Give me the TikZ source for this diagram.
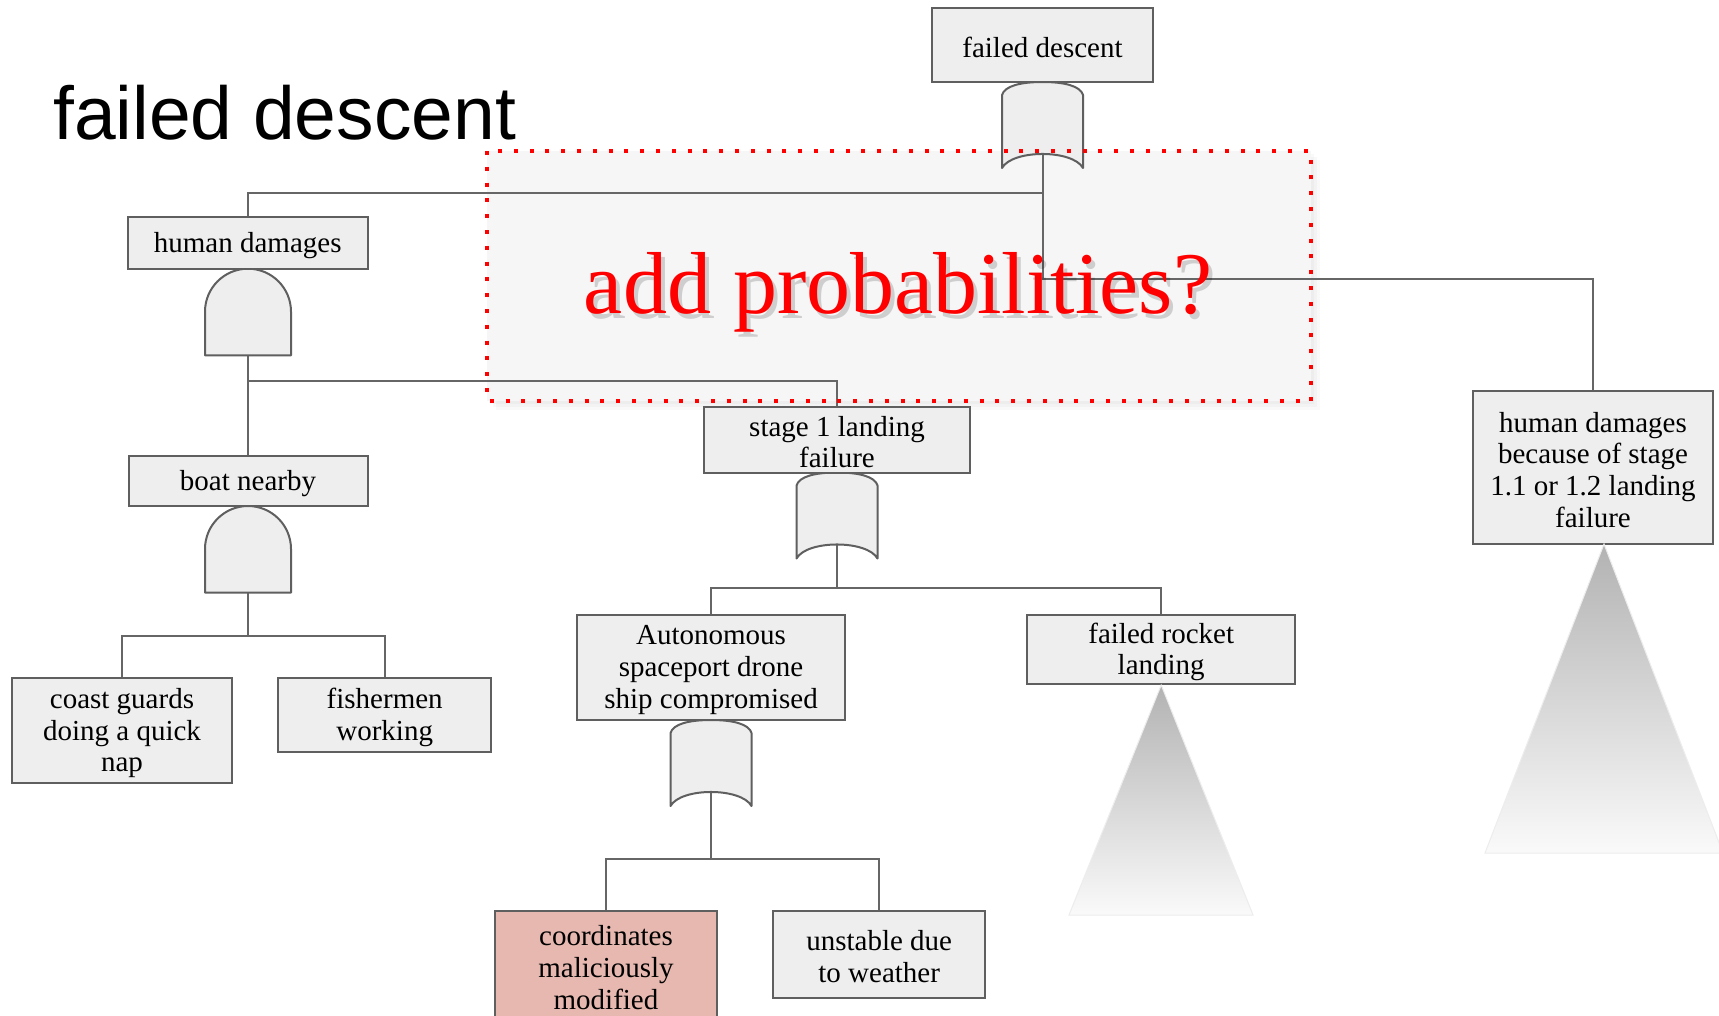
\documentclass[tikz,border=0pt]{standalone}
\usepackage{fontspec}
\setmainfont{Liberation Serif}
\newfontfamily\titlefont{Liberation Sans}
\definecolor{boxline}{HTML}{5F5F5F}
\definecolor{boxfill}{HTML}{EEEEEE}
\definecolor{wirecol}{HTML}{666666}
\definecolor{hotfill}{HTML}{E6B8AF}
\definecolor{notefill}{HTML}{F6F6F6}
\definecolor{notered}{HTML}{FF0000}
% event box: frame node plus its text set a little low, as in the tree's style
\newcommand{\ftbox}[6][boxfill]{%
  \node[box, fill=#1, minimum width=#4, minimum height=#5] (#2) at #3 {};
  \node[boxtext] (#2-text) at ([yshift=-2.5pt]#2.center) {#6};}
\begin{document}
\begin{tikzpicture}[x=1pt,y=-1pt,
  box/.style={draw=boxline, line width=2pt, inner sep=0pt},
  boxtext/.style={inner sep=0pt, align=center, font=\fontsize{29}{31.7}\selectfont},
  wire/.style={draw=wirecol, line width=2pt},
  gatestyle/.style={draw=boxline, fill=boxfill, line width=2pt, line join=round},
  subtree/.style={draw=white!93!black, line width=1pt, top color=black!30, bottom color=black!2},
  orgate/.pic={\path[gatestyle] (-40.5,13) .. controls (-38,4) and (-22,0) .. (0,0)
      .. controls (22,0) and (38,4) .. (40.5,13) -- (40.5,86)
      .. controls (30,67.3) and (-30,67.3) .. (-40.5,86) -- cycle;},
  andgate/.pic={\path[gatestyle] (-43,86.6) -- (-43,43)
      .. controls (-43,19.25) and (-23.75,0) .. (0,0)
      .. controls (23.75,0) and (43,19.25) .. (43,43) -- (43,86.6) -- cycle;}
]
\useasboundingbox (0,0) rectangle (1719,1015);
\clip (0,0) rectangle (1719,1015);
\fill[white] (0,0) rectangle (1719,1015);

% note area behind the tree, with a soft shadow
\foreach \d in {9,6,3}
  \fill[black, opacity=0.025] (487+\d,151+\d) rectangle (1311+\d,401+\d);
\fill[notefill] (487,151) rectangle (1311,401);

% title
\node[anchor=base west, inner sep=0pt, font=\titlefont\fontsize{75}{80}\selectfont] (title) at (53,139) {failed descent};

% gate outputs
\coordinate (fdg) at (1042.5,154);
\coordinate (hdg) at (248,355.3);
\coordinate (s1g) at (837,544.5);
\coordinate (bng) at (248,593.1);
\coordinate (asg) at (711,792);

% connectors
\draw[wire] (fdg) -- ++(0,39) -| (248,216.7);
\draw[wire] (fdg) -- ++(0,125) -| (1593,390.7);
\draw[wire] (hdg) -- (248,456);
\draw[wire] (hdg) ++(0,25.4) -| (837,406.7);
\draw[wire] (bng) -- ++(0,43) -| (122,678.3);
\draw[wire] (bng) ++(0,43) -| (384.7,678.3);
\draw[wire] (s1g) -- ++(0,43.1) -| (711,615);
\draw[wire] (s1g) ++(0,43.1) -| (1161.2,615);
\draw[wire] (asg) -- ++(0,67.3) -| (606,911);
\draw[wire] (asg) ++(0,67.3) -| (879.2,911);

% gates
\pic at (1042.5,82) {orgate};
\pic at (248,268.7) {andgate};
\pic at (837,472.5) {orgate};
\pic at (248,506) {andgate};
\pic at (711,720) {orgate};

% events
\ftbox{fd}{(1042.5,45)}{221pt}{74pt}{failed descent}
\ftbox{hd}{(247.7,242.7)}{240pt}{52pt}{human damages}
\ftbox{bn}{(248,481)}{239pt}{50pt}{boat nearby}
\ftbox{cg}{(122,730.7)}{220.6pt}{104.7pt}{coast guards\\doing a quick\\nap}
\ftbox{fw}{(384.7,715)}{212.7pt}{73.4pt}{fishermen\\working}
\ftbox{s1}{(837,439.6)}{266.4pt}{65.8pt}{stage 1 landing\\failure}
\ftbox{as}{(711,667.5)}{267.4pt}{105pt}{Autonomous\\spaceport drone\\ship compromised}
\ftbox{fr}{(1161.2,649.5)}{267.7pt}{69pt}{failed rocket\\landing}
\ftbox[hotfill]{cm}{(606,965)}{221.5pt}{108pt}{coordinates\\maliciously\\modified}
\ftbox{uw}{(879.2,954.4)}{212.5pt}{86.7pt}{unstable due\\to weather}
\ftbox{hr}{(1593,467.4)}{239.4pt}{153.3pt}{human damages\\because of stage\\1.1 or 1.2 landing\\failure}

% undeveloped subtrees
\path[subtree] (fr.south) -- (1253,915) -- (1069,915) -- cycle;
\path[subtree] (1604,544) -- (1723,853) -- (1485,853) -- cycle;

% note frame and question
\draw[notered, line width=4pt, dash pattern=on 4pt off 11.8pt] (487,151) rectangle (1311,401);
\node[anchor=base, inner sep=0pt, text=black, opacity=0.16, font=\fontsize{88}{90}\selectfont] (noteshade) at (902,318) {add probabilities?};
\node[anchor=base, inner sep=0pt, text=notered, font=\fontsize{88}{90}\selectfont] (note) at (898,313) {add probabilities?};
\end{tikzpicture}
\end{document}
